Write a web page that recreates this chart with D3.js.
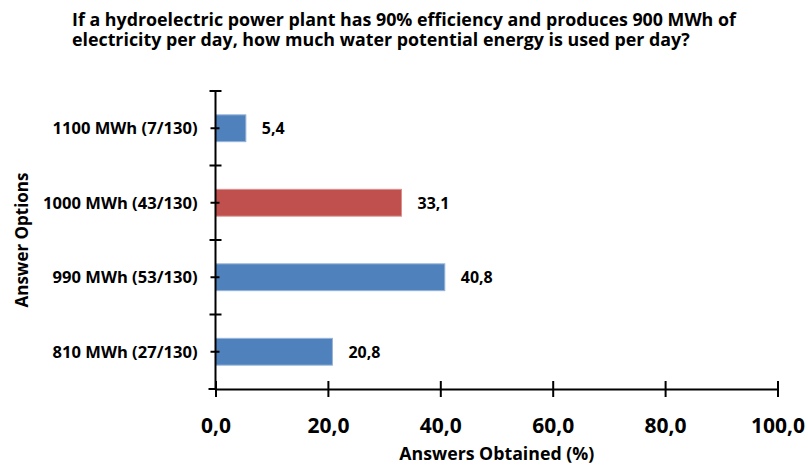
<!DOCTYPE html>
<html>
<head>
<meta charset="utf-8">
<script src="https://cdn.jsdelivr.net/npm/d3@7"></script>
<style>
  body { margin: 0; background: #fff; }
  svg text { font-family: "Open Sans", "Noto Sans", sans-serif; font-weight: 700; fill: #000; }
</style>
</head>
<body>
<div id="chart"></div>
<script>
"use strict";

// answer options, top to bottom
var options = ["1100 MWh (7/130)", "1000 MWh (43/130)", "990 MWh (53/130)", "810 MWh (27/130)"];
var percents = [5.4, 33.1, 40.8, 20.8];
var correctOption = "1000 MWh (43/130)";
var xTicks = [0, 20, 40, 60, 80, 100];
var titleLines = [
  "If a hydroelectric power plant has 90% efficiency and produces 900 MWh of",
  "electricity per day, how much water potential energy is used per day?"
];

var width = 808, height = 466;
var margin = { top: 91, right: 30, bottom: 77, left: 215.5 };
var innerWidth = width - margin.left - margin.right;
var innerHeight = height - margin.top - margin.bottom;

var blue = "#4f81bd", red = "#c0504d";
var fmt = function (v) { return d3.format(".1f")(v).replace(".", ","); };

// the chart font is narrower than what we have, so size each text group
// so that one of its texts gets the width measured on the picture
function fitFont(sel, sample, target) {
  var node = sel.filter(function (d, i) { return i === sample; }).node();
  var w = node.getComputedTextLength();
  var size = parseFloat(window.getComputedStyle(node).fontSize);
  sel.style("font-size", (size * target / w).toFixed(2) + "px");
}

var svg = d3.select("#chart").append("svg").attr("width", width).attr("height", height);

// title
var title = svg.append("g").selectAll("text").data(titleLines).enter().append("text")
  .attr("x", 72).attr("y", function (d, i) { return 26 + i * 19.5; })
  .style("font-size", "16px")
  .text(function (d) { return d; });
fitFont(title, 0, 664);

var g = svg.append("g").attr("transform", "translate(" + margin.left + "," + margin.top + ")");

var x = d3.scaleLinear().domain([0, 100]).range([0, innerWidth - 0.5]);
var y = d3.scaleBand().domain(options).range([0, innerHeight]);

var data = options.map(function (d, i) { return { label: d, value: percents[i] }; });

// bars
var barH = y.bandwidth() * 0.36;
g.selectAll("rect.bar").data(data).enter().append("rect")
  .attr("class", "bar")
  .attr("x", x(0))
  .attr("y", function (d) { return y(d.label) + (y.bandwidth() - barH) / 2; })
  .attr("width", function (d) { return x(d.value) - x(0); })
  .attr("height", barH)
  .attr("fill", function (d) { return d.label === correctOption ? red : blue; })
  .attr("stroke", function (d) { return d.label === correctOption ? "#d9908e" : "#95b3d7"; })
  .attr("stroke-width", 1);

// value labels
var vals = g.selectAll("text.val").data(data).enter().append("text")
  .attr("class", "val")
  .attr("x", function (d) { return x(d.value) + 16; })
  .attr("y", function (d) { return y(d.label) + y.bandwidth() / 2; })
  .attr("dy", "0.36em")
  .style("font-size", "15px")
  .text(function (d) { return fmt(d.value); });
fitFont(vals, 2, 32);

// x axis
var xAxis = d3.axisBottom(x).tickValues(xTicks).tickFormat(fmt).tickSizeInner(8).tickSizeOuter(0).tickPadding(21);
var xAxisG = g.append("g").attr("transform", "translate(0," + innerHeight + ")").call(xAxis);
xAxisG.select(".domain").attr("stroke", "#000").attr("stroke-width", 2);
xAxisG.selectAll(".tick line").attr("y1", -8).attr("stroke", "#000").attr("stroke-width", 2);
var xLabels = xAxisG.selectAll(".tick text")
  .style("font-family", "'Open Sans', sans-serif").style("font-weight", 700)
  .style("font-size", "20px").attr("fill", "#000");
fitFont(xLabels, 1, 42);
xAxisG.append("line").attr("x1", -7).attr("x2", 0).attr("stroke", "#000").attr("stroke-width", 2);

// y axis
var yAxisG = g.append("g");
yAxisG.append("line").attr("y1", 0).attr("y2", innerHeight).attr("stroke", "#000").attr("stroke-width", 2);
var bounds = options.map(function (d) { return y(d); });
yAxisG.selectAll("line.major").data(bounds).enter().append("line")
  .attr("x1", -6).attr("x2", 6)
  .attr("y1", function (d) { return d; }).attr("y2", function (d) { return d; })
  .attr("stroke", "#000").attr("stroke-width", 2);
yAxisG.selectAll("line.minor").data(options).enter().append("line")
  .attr("x1", -5).attr("x2", 4)
  .attr("y1", function (d) { return y(d) + y.bandwidth() / 2; })
  .attr("y2", function (d) { return y(d) + y.bandwidth() / 2; })
  .attr("stroke", "#000").attr("stroke-width", 2);
var yLabels = yAxisG.selectAll("text").data(options).enter().append("text")
  .attr("x", -18)
  .attr("y", function (d) { return y(d) + y.bandwidth() / 2; })
  .attr("dy", "0.36em")
  .attr("text-anchor", "end")
  .style("font-size", "16px")
  .text(function (d) { return d; });
fitFont(yLabels, 0, 145);

// axis titles
var xTitle = svg.append("text")
  .attr("x", margin.left + innerWidth / 2).attr("y", 460)
  .attr("text-anchor", "middle")
  .style("font-size", "16px")
  .text("Answers Obtained (%)");
fitFont(xTitle, 0, 195);
var yTitle = svg.append("text")
  .attr("transform", "translate(28," + (margin.top + innerHeight / 2) + ") rotate(-90)")
  .attr("text-anchor", "middle")
  .style("font-size", "16px")
  .text("Answer Options");
fitFont(yTitle, 0, 135);
</script>
</body>
</html>
